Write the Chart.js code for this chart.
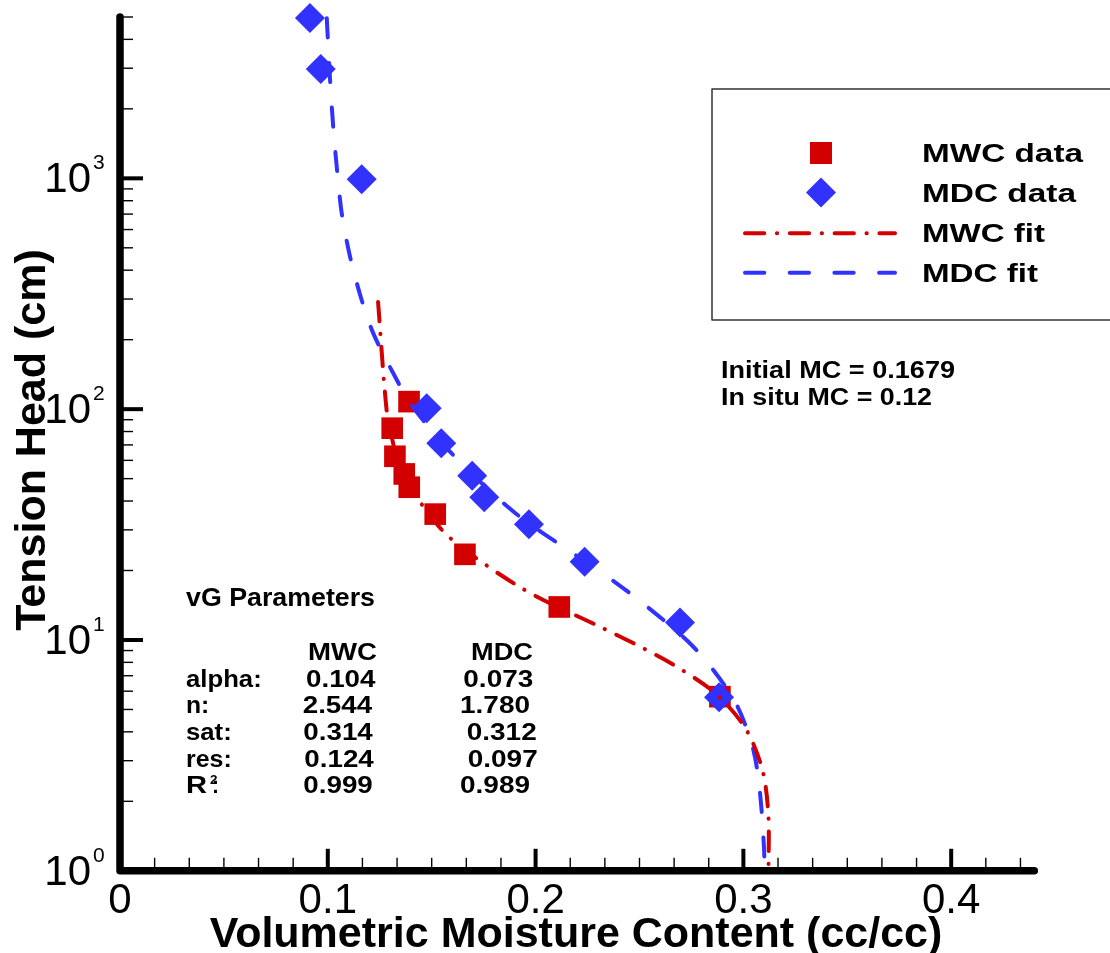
<!DOCTYPE html>
<html>
<head>
<meta charset="utf-8">
<script src="https://cdn.jsdelivr.net/npm/chart.js@4.4.1/dist/chart.umd.min.js"></script>
<style>
  html, body { margin: 0; padding: 0; background: #fff; }
  canvas { display: block; }
</style>
</head>
<body>
<canvas id="retentionChart" width="1110" height="953"></canvas>
<script>
// measured drying / wetting curve points (theta in cc/cc, head in cm)
const mwcTheta = [0.1391, 0.1310, 0.1323, 0.1368, 0.1392, 0.1517, 0.1660, 0.2114, 0.2887];
const mwcHead  = [107.8, 82.7, 62.5, 52.4, 45.9, 35.1, 23.5, 13.9, 5.68];

const mdcTheta = [0.0914, 0.0966, 0.1163, 0.1476, 0.1546, 0.1695, 0.1753, 0.1968, 0.2236, 0.2695, 0.2883];
const mdcHead  = [4950, 2980, 990, 101, 71.2, 51.5, 41.5, 31.7, 21.8, 11.9, 5.65];

// fitted curves
const mwcFitTheta = [0.1242, 0.1283, 0.1314, 0.1352, 0.1452, 0.1588, 0.1941, 0.2322, 0.2513, 0.2699, 0.2874, 0.3011, 0.3091, 0.3120, 0.3121];
const mwcFitHead  = [291, 99.2, 71.4, 51.9, 38.7, 27.7, 16.6, 11.27, 9.26, 7.47, 5.78, 4.13, 2.75, 1.77, 1.0];

const mdcFitTheta = [0.0995, 0.1011, 0.1026, 0.1043, 0.1067, 0.1107, 0.1163, 0.1219, 0.1315, 0.1404, 0.1588, 0.1893, 0.2181, 0.2390, 0.2551, 0.2735, 0.2855, 0.2968, 0.3048, 0.3080, 0.3099, 0.3102];
const mdcFitHead  = [4940, 2669, 1675, 1124, 706, 458, 297, 213, 143, 104, 65.4, 36, 23.7, 17.6, 13.6, 9.83, 7.41, 5.23, 3.34, 2.17, 1.27, 1.0];

// axis ticks
const xMajorTicks = [0, 0.1, 0.2, 0.3, 0.4];
const xTickLabels = ['0', '0.1', '0.2', '0.3', '0.4'];
const yMajorTicks = [1, 10, 100, 1000];
const yTickExponents = ['0', '1', '2', '3'];

const legendLabels = ['MWC data', 'MDC data', 'MWC fit', 'MDC fit'];

const RED = '#d20000';
const BLUE = '#3232ff';
const FONT = '"Liberation Sans", Arial, Helvetica, sans-serif';

function zip(xs, ys) {
    return xs.map((x, i) => ({ x: x, y: ys[i] }));
}

// draw bold text squeezed/stretched to the width it has in the original
function fitText(ctx, str, x, y, size, width) {
    ctx.font = 'bold ' + size + 'px ' + FONT;
    const w = ctx.measureText(str).width;
    ctx.save();
    ctx.translate(x, y);
    ctx.scale(width / w, 1);
    ctx.textAlign = 'left';
    ctx.textBaseline = 'alphabetic';
    ctx.fillText(str, 0, 0);
    ctx.restore();
}

const decorPlugin = {
    id: 'decor',
    afterDatasetsDraw(chart) {
        const ctx = chart.ctx;
        const xs = chart.scales.x;
        const ys = chart.scales.y;
        const left = xs.left, right = xs.right, top = ys.top, bottom = ys.bottom;

        ctx.save();
        ctx.strokeStyle = '#000';

        // minor x ticks (5 between majors)
        ctx.lineWidth = 1.4;
        for (let i = 1; i * (0.1 / 6) < 0.44; i++) {
            if (i % 6 === 0) continue;
            const px = xs.getPixelForValue(i * (0.1 / 6));
            ctx.beginPath();
            ctx.moveTo(px, bottom);
            ctx.lineTo(px, bottom - 13);
            ctx.stroke();
        }
        // major x ticks
        ctx.lineWidth = 4;
        xMajorTicks.forEach(v => {
            if (v === 0) return;
            const px = xs.getPixelForValue(v);
            ctx.beginPath();
            ctx.moveTo(px, bottom);
            ctx.lineTo(px, bottom - 22);
            ctx.stroke();
        });

        // minor y ticks (log 2..9)
        ctx.lineWidth = 1.4;
        yMajorTicks.forEach(d => {
            for (let m = 2; m <= 9; m++) {
                const v = d * m;
                if (v > 5000) break;
                const py = ys.getPixelForValue(v);
                ctx.beginPath();
                ctx.moveTo(left, py);
                ctx.lineTo(left + 13, py);
                ctx.stroke();
            }
        });
        ctx.lineWidth = 4;
        yMajorTicks.forEach(v => {
            if (v === 1) return;
            const py = ys.getPixelForValue(v);
            ctx.beginPath();
            ctx.moveTo(left, py);
            ctx.lineTo(left + 23, py);
            ctx.stroke();
        });

        // axis lines
        ctx.lineWidth = 7.5;
        ctx.lineCap = 'round';
        ctx.lineJoin = 'round';
        ctx.beginPath();
        ctx.moveTo(left, top);
        ctx.lineTo(left, bottom);
        ctx.lineTo(right, bottom);
        ctx.stroke();

        // tick labels
        ctx.fillStyle = '#000';
        ctx.font = '42px ' + FONT;
        ctx.textAlign = 'center';
        ctx.textBaseline = 'alphabetic';
        xMajorTicks.forEach((v, i) => {
            ctx.fillText(xTickLabels[i], xs.getPixelForValue(v), 913);
        });
        yMajorTicks.forEach((v, i) => {
            const py = ys.getPixelForValue(v);
            ctx.font = '42px ' + FONT;
            ctx.textAlign = 'right';
            ctx.fillText('10', 91, py + 14);
            ctx.font = '21px ' + FONT;
            ctx.textAlign = 'left';
            ctx.fillText(yTickExponents[i], 93, py - 9);
        });

        // axis titles
        ctx.font = 'bold 43px ' + FONT;
        ctx.textAlign = 'center';
        ctx.fillText('Volumetric Moisture Content (cc/cc)', 576, 947);
        ctx.save();
        ctx.translate(45, 440);
        ctx.rotate(-Math.PI / 2);
        ctx.fillText('Tension Head (cm)', 0, 0);
        ctx.restore();

        // legend box
        ctx.lineWidth = 1.5;
        ctx.strokeStyle = '#333';
        ctx.strokeRect(712, 89, 420, 231);

        ctx.fillStyle = RED;
        ctx.fillRect(810, 142, 22, 22);
        ctx.fillStyle = BLUE;
        ctx.beginPath();
        ctx.moveTo(821, 177.5);
        ctx.lineTo(836, 192.5);
        ctx.lineTo(821, 207.5);
        ctx.lineTo(806, 192.5);
        ctx.closePath();
        ctx.fill();

        ctx.lineWidth = 4;
        ctx.lineCap = 'round';
        ctx.strokeStyle = RED;
        ctx.setLineDash([19.3, 12.6, 0.3, 12.6]);
        ctx.beginPath();
        ctx.moveTo(745, 233.3);
        ctx.lineTo(895, 233.3);
        ctx.stroke();
        ctx.strokeStyle = BLUE;
        ctx.setLineDash([19.3, 25.4]);
        ctx.beginPath();
        ctx.moveTo(745, 272.7);
        ctx.lineTo(895, 272.7);
        ctx.stroke();
        ctx.setLineDash([]);

        ctx.fillStyle = '#000';
        const legendWidths = [161, 154, 123, 116];
        legendLabels.forEach((t, i) => {
            fitText(ctx, t, 922, 162 + i * 40, 25, legendWidths[i]);
        });

        // moisture notes
        fitText(ctx, 'Initial MC = 0.1679', 721, 378, 23, 234);
        fitText(ctx, 'In situ MC = 0.12', 721, 405, 23, 211);

        // vG parameter table
        fitText(ctx, 'vG Parameters', 186, 606, 25, 189);
        fitText(ctx, 'MWC', 308, 660, 23, 69);
        fitText(ctx, 'MDC', 471, 660, 23, 62);
        const rowY = [686.7, 713.3, 740, 766.7, 793.3];
        fitText(ctx, 'alpha:', 186, rowY[0], 23, 75.7);
        fitText(ctx, 'n:', 186, rowY[1], 23, 23.3);
        fitText(ctx, 'sat:', 186, rowY[2], 23, 45.7);
        fitText(ctx, 'res:', 186, rowY[3], 23, 45.7);
        fitText(ctx, 'R', 186, rowY[4], 23, 21);
        fitText(ctx, '2', 210, rowY[4] - 9, 13, 7.5);
        fitText(ctx, ':', 212, rowY[4], 23, 7);
        const mwcVals = ['0.104', '2.544', '0.314', '0.124', '0.999'];
        const mwcX = [306, 302.7, 303.3, 304.3, 303.3];
        const mdcVals = ['0.073', '1.780', '0.312', '0.097', '0.989'];
        const mdcX = [463.3, 460, 466.7, 467.7, 460];
        mwcVals.forEach((t, i) => fitText(ctx, t, mwcX[i], rowY[i], 23, 69.5));
        mdcVals.forEach((t, i) => fitText(ctx, t, mdcX[i], rowY[i], 23, 70));

        ctx.restore();
    }
};

new Chart(document.getElementById('retentionChart'), {
    type: 'scatter',
    data: {
        datasets: [
            {
                label: 'MWC fit',
                data: zip(mwcFitTheta, mwcFitHead),
                showLine: true,
                borderColor: RED,
                borderWidth: 4,
                borderDash: [19.3, 12.6, 0.3, 12.6],
                borderCapStyle: 'round',
                pointRadius: 0,
                tension: 0.3,
                clip: false
            },
            {
                label: 'MDC fit',
                data: zip(mdcFitTheta, mdcFitHead),
                showLine: true,
                borderColor: BLUE,
                borderWidth: 4,
                borderDash: [19.3, 25.4],
                borderCapStyle: 'round',
                pointRadius: 0,
                tension: 0.3,
                clip: false
            },
            {
                label: 'MDC data',
                data: zip(mdcTheta, mdcHead),
                pointStyle: 'rectRot',
                pointRadius: 15,
                backgroundColor: BLUE,
                borderColor: BLUE,
                borderWidth: 0,
                clip: false
            },
            {
                label: 'MWC data',
                data: zip(mwcTheta, mwcHead),
                pointStyle: 'rect',
                pointRadius: 15.3,
                backgroundColor: RED,
                borderColor: RED,
                borderWidth: 0,
                clip: false
            }
        ]
    },
    options: {
        responsive: false,
        animation: false,
        layout: {
            padding: { left: 120, right: 75.7, top: 17, bottom: 82.2 }
        },
        plugins: {
            legend: { display: false },
            tooltip: { enabled: false }
        },
        scales: {
            x: { type: 'linear', min: 0, max: 0.44, display: false },
            y: { type: 'logarithmic', min: 1, max: 5000, display: false }
        }
    },
    plugins: [decorPlugin]
});
</script>
</body>
</html>
